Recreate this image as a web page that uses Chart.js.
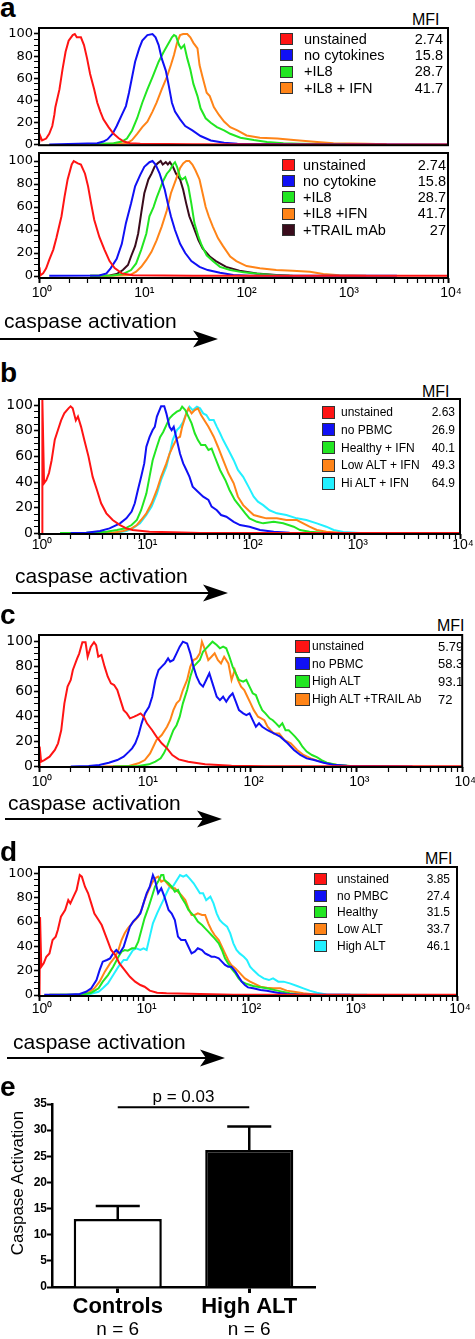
<!DOCTYPE html>
<html>
<head>
<meta charset="utf-8">
<script src="https://cdn.jsdelivr.net/npm/chart.js@4.4.1/dist/chart.umd.min.js"></script>
<style>
    body { margin: 0; background: #fff; }
    #page { position: relative; width: 475px; height: 1339px; overflow: hidden; background: #fff; }
    #page canvas { position: absolute; left: 0; }
    .t { position: absolute; white-space: nowrap; color: #000; }
    .sw { position: absolute; box-sizing: border-box; border: 1px solid #333; }
    svg { position: absolute; left: 0; }
</style>
</head>
<body>
<div id="page"></div>
<script>
// x values are log10(intensity), y values are % of max
const aTopRed = [[0,1],[0.01,8.5],[0.03,4],[0.07,5.7],[0.1,10],[0.13,17],[0.15,27],[0.16,34],[0.2,50],[0.23,68],[0.26,84],[0.29,94],[0.33,99],[0.35,100],[0.37,97],[0.41,97],[0.44,90],[0.47,78],[0.5,64],[0.54,50],[0.57,38],[0.6,30],[0.63,23],[0.68,16],[0.73,10],[0.78,6],[0.83,3],[0.89,1.4],[0.99,1],[1.5,0.5],[2.5,0.3],[4,0.3]];
const aTopBlue = [[0.1,0.3],[0.57,1.4],[0.63,3],[0.67,5],[0.72,10],[0.76,17],[0.81,27],[0.85,35],[0.88,47],[0.91,61],[0.94,75],[0.98,87],[1.01,94],[1.06,99],[1.11,100],[1.14,97],[1.17,90],[1.2,78],[1.24,67],[1.27,53],[1.3,38],[1.33,30],[1.38,23],[1.43,17],[1.5,13],[1.58,8],[1.68,4],[1.81,2],[1.94,1],[2.5,0.5],[4,0.3]];
const aTopGreen = [[0.5,0.5],[0.6,1],[0.73,1.4],[0.81,3],[0.86,5.7],[0.91,13],[0.96,24],[1.01,38],[1.06,50],[1.11,61],[1.14,68],[1.17,75],[1.22,84],[1.27,92],[1.3,97],[1.32,99],[1.34,98],[1.37,90],[1.39,87],[1.42,90],[1.45,78],[1.48,68],[1.51,55],[1.55,44],[1.58,33],[1.63,24],[1.68,20],[1.74,16],[1.81,13],[1.87,10],[1.97,6.5],[2.1,4.3],[2.23,2.6],[2.39,1.4],[2.55,1],[3,0.5]];
const aTopOrange = [[0.6,0.5],[0.73,1],[0.86,1.4],[0.91,4.3],[0.96,10],[1.01,16],[1.06,21],[1.11,30],[1.15,38],[1.2,50],[1.25,61],[1.29,72],[1.32,81],[1.35,92],[1.38,99],[1.41,100],[1.45,100],[1.48,97],[1.51,92],[1.55,87],[1.57,72],[1.6,61],[1.64,47],[1.67,44],[1.71,34],[1.76,27],[1.81,21],[1.87,16],[1.94,13],[2.03,8.5],[2.16,6.5],[2.33,5.7],[2.49,4.3],[2.72,2.6],[2.88,1.4],[3.2,1],[3.4,0.5]];

const aBotRed = [[0,0],[0.005,7.5],[0.013,0.5],[0.04,2.3],[0.07,6.7],[0.1,14],[0.14,23],[0.17,33],[0.22,52],[0.25,69],[0.28,84],[0.32,97],[0.34,100],[0.38,98],[0.41,97],[0.45,89],[0.48,78],[0.51,63],[0.54,49],[0.59,34],[0.64,23],[0.69,13],[0.74,7],[0.81,2.3],[0.92,0.6],[1.5,0.3],[4,0.3]];
const aBotBlue = [[0.1,0.2],[0.59,0.5],[0.66,2.3],[0.7,6.7],[0.76,15],[0.81,28],[0.85,46],[0.9,63],[0.94,78],[0.99,88],[1.03,95],[1.08,99],[1.11,100],[1.14,97],[1.18,89],[1.23,75],[1.26,63],[1.29,52],[1.33,40],[1.38,28],[1.43,20],[1.49,13],[1.57,8],[1.65,5.2],[1.77,2.9],[1.9,0.9],[2.06,0.3],[3.5,0.2]];
const aBotGreen = [[0.5,0.2],[0.72,0.5],[0.82,1.7],[0.9,5.2],[0.95,11],[1,23],[1.05,37],[1.08,52],[1.12,60],[1.15,68],[1.18,75],[1.21,82],[1.25,89],[1.28,92],[1.31,97],[1.33,99],[1.35,95],[1.38,86],[1.4,84],[1.43,86],[1.46,78],[1.49,63],[1.52,46],[1.56,34],[1.59,27],[1.64,18],[1.7,13],[1.77,8],[1.87,5.2],[2,3.2],[2.16,1.7],[2.32,0.6],[2.48,0.2]];
const aBotOrange = [[0.6,0.2],[0.79,0.5],[0.89,0.9],[0.95,3.8],[1,8],[1.05,14],[1.1,21],[1.15,31],[1.2,43],[1.25,57],[1.29,72],[1.34,84],[1.38,94],[1.41,98],[1.44,100],[1.47,100],[1.5,97],[1.53,92],[1.57,84],[1.6,72],[1.63,60],[1.66,52],[1.7,43],[1.75,33],[1.8,26],[1.87,17],[1.93,13],[2.03,8.7],[2.16,6.7],[2.32,5.2],[2.48,4.6],[2.65,3.8],[2.78,1.7],[2.94,0.6],[3.2,0.2]];
const aBotTrail = [[0.5,0.2],[0.69,0.5],[0.76,1.7],[0.82,5.2],[0.87,9.6],[0.9,17],[0.94,26],[0.97,37],[1,55],[1.03,72],[1.07,84],[1.1,89],[1.13,95],[1.16,98],[1.19,100],[1.21,97],[1.24,99],[1.26,97],[1.28,99],[1.31,95],[1.34,89],[1.38,84],[1.41,75],[1.44,63],[1.47,52],[1.51,43],[1.56,31],[1.6,24],[1.67,17],[1.73,13],[1.83,8],[1.96,4.6],[2.13,2.3],[2.32,0.9],[2.45,0.2]];

const bRed = [[0.03,0],[0.032,104],[0.048,39],[0.07,41.5],[0.095,47],[0.12,57],[0.15,73],[0.18,80.5],[0.21,88],[0.24,93.5],[0.28,97.4],[0.3,99],[0.32,97.4],[0.35,88],[0.37,91],[0.4,83],[0.43,73],[0.47,60],[0.51,44],[0.55,34],[0.59,23.4],[0.64,15.6],[0.7,10.4],[0.77,6.5],[0.83,3.9],[0.89,2.6],[1.05,1.3],[1.27,0.8],[1.53,0.3],[4,0.2]];
const bBlue = [[0.3,0.2],[0.45,0.5],[0.58,1.8],[0.67,3.9],[0.77,7.8],[0.83,11.7],[0.88,17],[0.91,23.4],[0.94,34],[0.97,44],[1,54.5],[1.02,67.5],[1.05,75],[1.08,80.5],[1.1,83],[1.12,91],[1.14,95],[1.16,99],[1.19,99],[1.21,93.5],[1.24,83],[1.26,80.5],[1.28,83],[1.31,72.7],[1.34,62],[1.37,54.5],[1.4,49.4],[1.43,44],[1.46,36.4],[1.51,32.5],[1.56,28.6],[1.61,26],[1.64,20.8],[1.69,18],[1.73,14.3],[1.78,13],[1.85,9],[1.91,6.5],[2,5.2],[2.1,2.6],[2.23,1.3],[2.38,0.5],[2.54,0.2]];
const bGreen = [[0.2,0.2],[0.45,0.5],[0.64,1.3],[0.74,2.6],[0.82,3.9],[0.88,6.5],[0.93,10.4],[0.97,18],[1.02,31],[1.05,44],[1.08,57],[1.12,67.5],[1.15,75],[1.18,79],[1.21,84.4],[1.24,89.6],[1.27,92.2],[1.31,94.8],[1.34,96],[1.36,98.7],[1.39,96],[1.42,91],[1.45,85.7],[1.48,78],[1.51,72.7],[1.54,68.8],[1.58,68.8],[1.61,65],[1.64,66],[1.67,59.7],[1.72,49.4],[1.77,41.6],[1.81,33.8],[1.86,26],[1.91,20.8],[1.96,15.6],[2,11.7],[2.07,9],[2.13,7.8],[2.23,9],[2.32,7.8],[2.42,5.2],[2.48,2.6],[2.57,1.3],[2.7,0.5],[2.8,0.2]];
const bOrange = [[0.5,0.2],[0.7,0.5],[0.8,1.8],[0.88,3.9],[0.93,6.5],[0.97,10.4],[1.02,15.6],[1.07,23.4],[1.12,33.8],[1.16,44],[1.21,54.5],[1.24,62],[1.27,67.5],[1.31,74],[1.34,75.3],[1.36,83],[1.4,93.5],[1.42,97.4],[1.45,93.5],[1.48,96],[1.51,97.4],[1.54,92.2],[1.58,87],[1.61,83],[1.66,75.3],[1.7,67.5],[1.75,57],[1.8,46.8],[1.85,39],[1.89,28.6],[1.94,22],[1.99,18],[2.04,14.3],[2.1,13],[2.16,11.7],[2.26,11.7],[2.35,10.4],[2.45,10.4],[2.51,7.8],[2.57,5.2],[2.64,2.6],[2.73,1.3],[2.86,0.5],[2.99,0.2]];
const bCyan = [[0.5,0.2],[0.74,0.5],[0.83,1.8],[0.89,3.9],[0.96,7.8],[1.02,14.3],[1.07,20.8],[1.12,31],[1.16,41.6],[1.21,52],[1.25,65],[1.27,72.7],[1.31,80.5],[1.34,83],[1.37,87],[1.4,93.5],[1.43,98.7],[1.46,96],[1.5,98.7],[1.53,97.4],[1.56,93.5],[1.59,92.2],[1.62,88.3],[1.66,88.3],[1.69,83],[1.72,78],[1.75,72.7],[1.8,65],[1.85,57],[1.89,49.4],[1.94,44],[1.99,36.4],[2.04,28.6],[2.08,24.7],[2.13,22],[2.19,18],[2.26,15.6],[2.35,14.3],[2.45,11.7],[2.54,10.4],[2.64,7.8],[2.73,5.2],[2.8,2.6],[2.89,1],[3.05,0.2]];

const cRed = [[0,0],[0.006,16],[0.02,4],[0.05,5.3],[0.1,8],[0.15,13.3],[0.18,18.6],[0.21,29],[0.24,50.4],[0.27,63.7],[0.3,69],[0.32,77],[0.36,86],[0.38,90],[0.41,99],[0.44,99],[0.46,87.5],[0.49,95.5],[0.52,99],[0.54,96.8],[0.56,87.5],[0.59,88.9],[0.62,79.6],[0.65,71.6],[0.68,66.3],[0.71,65],[0.74,61],[0.77,53],[0.8,45],[0.83,42.4],[0.86,38.5],[0.9,39.8],[0.93,41],[0.96,42.4],[0.99,39.8],[1.02,34.5],[1.07,29],[1.11,23.9],[1.16,18.6],[1.21,14.6],[1.26,9.3],[1.32,5.8],[1.41,4],[1.57,1.9],[1.82,0.8],[2.13,0.3],[4,0.3]];
const cBlue = [[0.3,0.2],[0.47,0.5],[0.57,1.3],[0.66,3.2],[0.74,5.3],[0.8,8],[0.85,12],[0.88,14.6],[0.91,18.6],[0.94,25.2],[0.97,34.5],[1,42.4],[1.04,47.7],[1.07,55.7],[1.1,69],[1.13,77],[1.16,79.6],[1.19,82.2],[1.22,86.2],[1.24,83.6],[1.27,84.9],[1.3,90.2],[1.33,95.5],[1.36,99.5],[1.4,98],[1.43,90.2],[1.46,79.6],[1.49,71.6],[1.52,66.3],[1.55,63.7],[1.58,69],[1.61,74.3],[1.64,66.3],[1.68,55.7],[1.71,53],[1.74,55.7],[1.77,51.7],[1.8,55.7],[1.83,58.4],[1.86,51.7],[1.89,45],[1.93,42.4],[1.96,41],[1.99,42.4],[2.02,37],[2.05,31.8],[2.08,34.5],[2.11,31.8],[2.16,29],[2.22,26.5],[2.28,23.9],[2.35,18.6],[2.41,13.3],[2.47,9.3],[2.53,6.6],[2.6,5.3],[2.69,3.2],[2.78,1.6],[2.91,0.8],[3.06,0.5],[3.38,0.3],[3.53,0.2]];
const cHigh = [[0.7,0.2],[0.82,0.3],[0.94,0.5],[1.04,1.9],[1.1,4],[1.15,6.6],[1.18,10.6],[1.21,15.9],[1.24,22.5],[1.27,29],[1.3,33],[1.33,39.8],[1.36,50.4],[1.4,61],[1.43,71.6],[1.46,79.6],[1.49,82.2],[1.52,84.9],[1.55,91.5],[1.58,94.2],[1.61,96.8],[1.64,99.5],[1.68,96.8],[1.71,94.2],[1.74,95.5],[1.77,94.2],[1.8,87.5],[1.83,79.6],[1.86,74.3],[1.89,69],[1.93,67.6],[1.96,69],[1.99,63.7],[2.02,58.4],[2.05,57],[2.08,50.4],[2.11,45],[2.14,42.4],[2.18,38.5],[2.21,37],[2.24,34.5],[2.27,31.8],[2.3,34.5],[2.33,29],[2.36,29],[2.39,26.5],[2.42,23.9],[2.46,19.9],[2.49,15.9],[2.53,12],[2.58,9.3],[2.63,7.4],[2.67,5.3],[2.72,3.2],[2.81,1.6],[2.94,0.5],[3.31,0.2]];
const cTrail = [[0.6,0.2],[0.72,0.3],[0.85,0.5],[0.94,2.7],[1,5.3],[1.05,10.6],[1.08,15.9],[1.11,21.2],[1.16,25.2],[1.21,31.8],[1.24,37],[1.27,45],[1.3,50.4],[1.33,53],[1.36,61],[1.4,69],[1.43,79.6],[1.46,84.9],[1.49,86.2],[1.52,90.2],[1.54,99.5],[1.57,92.8],[1.6,84.9],[1.63,87.5],[1.66,90.2],[1.69,84.9],[1.72,82.2],[1.75,87.5],[1.79,82.2],[1.82,69],[1.85,77],[1.88,69],[1.91,63.7],[1.94,61],[1.97,55.7],[2,50.4],[2.03,45],[2.07,39.8],[2.1,38.5],[2.13,37],[2.16,31.8],[2.19,29],[2.22,26.5],[2.27,26.5],[2.32,21.2],[2.38,18.6],[2.44,13.3],[2.5,9.3],[2.57,6.6],[2.63,4.8],[2.72,2.7],[2.85,1],[3,0.2]];

const dRed = [[0.005,0],[0.01,64],[0.022,23.3],[0.045,26],[0.07,31.5],[0.1,34.2],[0.13,45.2],[0.16,48],[0.18,53.4],[0.21,64.4],[0.25,69.9],[0.28,78],[0.3,75.3],[0.33,80.8],[0.36,86.3],[0.39,98.6],[0.41,97.3],[0.44,89],[0.47,83.6],[0.5,75.3],[0.53,67],[0.57,61.6],[0.6,57.5],[0.63,50.7],[0.66,43.8],[0.69,37],[0.73,32.9],[0.77,26],[0.82,20.5],[0.87,15],[0.92,11],[0.97,8.2],[1.01,6.8],[1.06,3.6],[1.13,1.9],[1.22,1.4],[1.54,0.8],[1.86,0.3],[4,0.2]];
const dBlue = [[0.05,0.2],[0.26,0.3],[0.39,0.8],[0.45,2.7],[0.5,5.5],[0.55,12.3],[0.58,20.5],[0.61,27.4],[0.65,28.8],[0.68,30.1],[0.71,34.2],[0.74,37],[0.77,34.2],[0.81,39.7],[0.84,48],[0.87,56.2],[0.9,60.3],[0.93,63],[0.97,67],[1,75.3],[1.03,83.6],[1.06,89],[1.09,98.6],[1.11,94.5],[1.14,83.6],[1.17,87.7],[1.2,80.8],[1.24,69.9],[1.27,67],[1.3,61.6],[1.33,48],[1.36,45.2],[1.4,45.2],[1.43,39.7],[1.46,34.2],[1.49,35.6],[1.52,38.4],[1.56,37],[1.59,34.2],[1.62,32.9],[1.65,31.5],[1.68,31.5],[1.72,30.1],[1.75,27.4],[1.78,24.7],[1.81,23.3],[1.84,23.3],[1.88,19.2],[1.91,15],[1.94,11],[1.97,8.2],[2,6.3],[2.05,5.5],[2.12,4.1],[2.18,3.6],[2.28,1.9],[2.37,0.8],[2.5,0.3],[2.98,0.2]];
const dHealthy = [[0.1,0.2],[0.26,0.3],[0.42,0.5],[0.5,1.9],[0.57,5.5],[0.61,11],[0.66,16.4],[0.71,23.3],[0.76,31.5],[0.79,35.6],[0.82,37],[0.85,36.4],[0.89,38.4],[0.92,38.4],[0.95,43.8],[0.98,53.4],[1.01,63],[1.05,72.6],[1.08,80.8],[1.11,89],[1.14,93.2],[1.17,98.6],[1.19,98.6],[1.2,94.5],[1.24,91.8],[1.27,89],[1.3,84.9],[1.33,86.3],[1.36,80.8],[1.4,75.3],[1.43,69.9],[1.46,67.1],[1.49,64.4],[1.52,60.3],[1.56,57.5],[1.59,54.8],[1.62,52.1],[1.65,49.3],[1.68,46.6],[1.72,42.5],[1.75,37],[1.78,30.1],[1.81,26],[1.84,21.9],[1.88,17.8],[1.91,13.7],[1.94,11],[1.99,9],[2.05,7.4],[2.12,6.3],[2.18,5.5],[2.28,3.6],[2.4,1.4],[2.5,0.3]];
const dLow = [[0.1,0.2],[0.26,0.3],[0.39,0.5],[0.47,1.9],[0.53,5.5],[0.58,11],[0.63,19.2],[0.68,26],[0.73,31.5],[0.76,37],[0.79,45.2],[0.82,50.7],[0.85,54.8],[0.89,58.9],[0.92,61.6],[0.95,64.4],[0.98,69.9],[1.01,78],[1.05,86.3],[1.08,91.8],[1.11,95.9],[1.14,97.3],[1.17,93.2],[1.2,94.5],[1.24,90.4],[1.27,87.7],[1.3,87.7],[1.33,84.9],[1.36,82.2],[1.4,78],[1.43,71.2],[1.46,65.8],[1.49,65.8],[1.52,67.1],[1.56,65.8],[1.59,65.8],[1.62,58.9],[1.65,53.4],[1.68,49.3],[1.72,45.2],[1.75,39.7],[1.78,34.2],[1.81,28.8],[1.84,24.7],[1.88,21.9],[1.91,19.2],[1.94,16.4],[1.97,13.7],[2.02,11],[2.07,9],[2.12,6.8],[2.18,6],[2.24,5.5],[2.31,5.5],[2.37,3.6],[2.44,2.7],[2.53,1.4],[2.66,0.3]];
const dHigh = [[0.2,0.2],[0.36,0.3],[0.49,0.8],[0.57,2.7],[0.61,5.5],[0.66,9.6],[0.71,16.4],[0.76,23.3],[0.81,28.8],[0.84,28.8],[0.87,32.9],[0.9,37],[0.93,38.4],[0.97,37],[1,38.4],[1.03,37],[1.06,48],[1.09,58.9],[1.13,67.1],[1.16,72.6],[1.19,78],[1.22,83.6],[1.25,89],[1.28,89],[1.32,94.5],[1.35,98.6],[1.38,97.3],[1.41,98.6],[1.44,95.9],[1.48,91.8],[1.51,87.7],[1.54,83.6],[1.57,83.6],[1.6,78],[1.64,80.8],[1.67,75.3],[1.7,67.1],[1.73,61.6],[1.76,58.9],[1.8,56.2],[1.83,50.7],[1.86,42.5],[1.89,37],[1.92,34.2],[1.96,31.5],[1.99,28.8],[2.02,23.3],[2.05,20.5],[2.1,16.4],[2.15,13.7],[2.2,12.3],[2.24,13.7],[2.29,11],[2.34,11],[2.4,9.6],[2.47,7.4],[2.53,5.5],[2.59,3.6],[2.66,1.9],[2.75,0.5],[3.14,0.2]];

const aTopLabels = ["unstained", "no cytokines", "+IL8", "+IL8 + IFN"];
const aTopMfi = ["2.74", "15.8", "28.7", "41.7"];
const aBotLabels = ["unstained", "no cytokine", "+IL8", "+IL8 +IFN", "+TRAIL mAb"];
const aBotMfi = ["2.74", "15.8", "28.7", "41.7", "27"];
const bLabels = ["unstained", "no PBMC", "Healthy + IFN", "Low ALT + IFN", "Hi ALT + IFN"];
const bMfi = ["2.63", "26.9", "40.1", "49.3", "64.9"];
const cLabels = ["unstained", "no PBMC", "High ALT", "High ALT +TRAIL Ab"];
const cMfi = ["5.79", "58.3", "93.1", "72"];
const dLabels = ["unstained", "no PMBC", "Healthy", "Low ALT", "High ALT"];
const dMfi = ["3.85", "27.4", "31.5", "33.7", "46.1"];

const decades = [0, 1, 2, 3, 4];
const minorSteps = [2, 3, 4, 5, 6, 7, 8, 9];
const yTicks = [0, 5, 10, 15, 20, 25, 30, 35, 40, 45, 50, 55, 60, 65, 70, 75, 80, 85, 90, 95, 100];
const supers = ["\u2070", "\u00b9", "\u00b2", "\u00b3", "\u2074"];

const groups = ["Controls", "High ALT"];
const groupMeans = [13, 26.2];
const groupErrTop = [15.5, 30.7];
const groupN = ["n = 6", "n = 6"];
const pLabel = "p = 0.03";
const pLevel = 34.4;

const SANS = '"Liberation Sans", Arial, sans-serif';
const WIDE = '"DejaVu Sans", sans-serif';
const RED = "#ff1414", BLUE = "#1010f5", GREEN = "#22e622", ORANGE = "#ff8418", CYAN = "#22f0ff", DARK = "#3a0c1c";

const page = document.getElementById("page");

const logTicks = [];
decades.forEach(d => {
    logTicks.push(d);
    if (d < 4) minorSteps.forEach(m => logTicks.push(d + Math.log10(m)));
});

function addCanvas(top, height) {
    const c = document.createElement("canvas");
    c.width = 475;
    c.height = height;
    c.style.top = top + "px";
    c.style.width = "475px";
    c.style.height = height + "px";
    page.appendChild(c);
    return c;
}

function txt(str, x, y, size, o = {}) {
    const el = document.createElement("div");
    el.className = "t";
    el.textContent = str;
    el.style.font = `${o.weight || "normal"} ${size}px ${o.family || SANS}`;
    el.style.lineHeight = size + "px";
    el.style.top = (o.baseline ? y - 0.847 * size : y - size / 2) + "px";
    if (o.align === "right") {
        el.style.right = (475 - x) + "px";
    } else {
        el.style.left = x + "px";
    }
    page.appendChild(el);
    return el;
}

function arrow(x0, tip, y) {
    const NS = "http://www.w3.org/2000/svg";
    const svg = document.createElementNS(NS, "svg");
    svg.setAttribute("width", 475);
    svg.setAttribute("height", 20);
    svg.style.top = (y - 10) + "px";
    const line = document.createElementNS(NS, "line");
    line.setAttribute("x1", x0);
    line.setAttribute("x2", tip - 12);
    line.setAttribute("y1", 10);
    line.setAttribute("y2", 10);
    line.setAttribute("stroke", "#000");
    line.setAttribute("stroke-width", 2);
    const head = document.createElementNS(NS, "path");
    head.setAttribute("d", `M${tip},10 L${tip - 25},1.5 L${tip - 19},10 L${tip - 25},18.5 Z`);
    head.setAttribute("fill", "#000");
    svg.appendChild(line);
    svg.appendChild(head);
    page.appendChild(svg);
}

const framePlugin = {
    id: "frame",
    afterDraw(chart) {
        const { ctx, chartArea: a } = chart;
        ctx.save();
        ctx.strokeStyle = "#000";
        ctx.lineWidth = 2;
        ctx.strokeRect(a.left, a.top, a.right - a.left, a.bottom - a.top);
        ctx.restore();
    }
};

function histogram(p) {
    const padTop = 10;
    const xh = p.showX ? 32 : 2;
    const canvas = addCanvas(p.top - padTop, padTop + (p.bottom - p.top) + xh);

    new Chart(canvas, {
        type: "scatter",
        data: {
            datasets: p.series.map((s, i) => ({
                data: s.map(([x, y]) => ({ x, y })),
                showLine: true,
                borderColor: p.colors[i],
                borderWidth: 2,
                pointRadius: 0,
                tension: 0,
            })),
        },
        options: {
            responsive: false,
            animation: false,
            layout: { padding: { top: padTop, left: 0, right: 475 - p.right, bottom: 0 } },
            plugins: { legend: { display: false }, tooltip: { enabled: false } },
            scales: {
                x: {
                    type: "linear",
                    min: 0,
                    max: 4,
                    afterBuildTicks: ax => { ax.ticks = logTicks.map(v => ({ value: v })); },
                    afterFit: s => { s.height = xh; },
                    border: { display: false },
                    grid: {
                        drawOnChartArea: false,
                        drawTicks: p.showX,
                        tickLength: 5,
                        color: "#000",
                        tickColor: "#000",
                        tickWidth: ctx => Number.isInteger(ctx.tick.value) ? 2 : 1.2,
                    },
                    ticks: {
                        display: p.showX,
                        autoSkip: false,
                        maxRotation: 0,
                        padding: p.labelPad,
                        labelOffset: 3,
                        color: "#000",
                        font: { family: SANS, size: 14 },
                        callback: v => Number.isInteger(v) ? "10" + supers[v] : "",
                    },
                },
                y: {
                    min: p.yMin,
                    max: p.yMax,
                    afterBuildTicks: ax => { ax.ticks = yTicks.map(v => ({ value: v })); },
                    afterFit: s => { s.width = p.left; },
                    border: { display: false },
                    grid: {
                        drawOnChartArea: false,
                        tickLength: 5,
                        color: "#000",
                        tickColor: "#000",
                        tickWidth: ctx => ctx.tick.value % 20 === 0 ? 1.6 : 1,
                    },
                    ticks: {
                        autoSkip: false,
                        padding: 1,
                        color: "#000",
                        font: { family: WIDE, size: p.yFont },
                        callback: v => v % 20 === 0 ? v : "",
                    },
                },
            },
        },
        plugins: [framePlugin],
    });
}

function legend(p) {
    p.labels.forEach((label, i) => {
        const y = p.rowTop + i * p.rowStep;
        const sw = document.createElement("div");
        sw.className = "sw";
        sw.style.left = p.swX + "px";
        sw.style.top = (y - p.swH / 2) + "px";
        sw.style.width = (p.swW || 13) + "px";
        sw.style.height = p.swH + "px";
        sw.style.background = p.colors[i];
        page.appendChild(sw);
        txt(label, p.textX, y, p.font);
        if (p.valLeft) {
            txt(p.mfi[i], p.valLeft, y, p.valFont || p.font);
        } else {
            txt(p.mfi[i], p.valRight, y, p.valFont || p.font, { align: "right" });
        }
    });
}

// panel a
txt("a", 0, 18, 28, { weight: "bold", baseline: true });
txt("MFI", 412, 26, 16, { baseline: true });
histogram({
    top: 28, bottom: 152, left: 39, right: 448, yMin: -0.3, yMax: 105.4, showX: false, yFont: 13,
    series: [aTopRed, aTopBlue, aTopGreen, aTopOrange], colors: [RED, BLUE, GREEN, ORANGE],
});
legend({ labels: aTopLabels, mfi: aTopMfi, colors: [RED, BLUE, GREEN, ORANGE],
    swX: 280, swH: 12, rowTop: 39, rowStep: 16.3, textX: 304, valRight: 443, font: 14.5 });
histogram({
    top: 153, bottom: 278, left: 39, right: 448, yMin: -1.7, yMax: 107, showX: true, labelPad: 2, yFont: 13,
    series: [aBotRed, aBotBlue, aBotGreen, aBotOrange, aBotTrail], colors: [RED, BLUE, GREEN, ORANGE, DARK],
});
legend({ labels: aBotLabels, mfi: aBotMfi, colors: [RED, BLUE, GREEN, ORANGE, DARK],
    swX: 282, swH: 12, rowTop: 165, rowStep: 16.2, textX: 303, valRight: 446, font: 14.5 });
txt("caspase activation", 4, 328, 21, { baseline: true });
arrow(0, 218, 339);

// panel b
txt("b", 0, 383, 28, { weight: "bold", baseline: true });
txt("MFI", 422, 398, 16, { baseline: true });
histogram({
    top: 399, bottom: 534, left: 39, right: 460, yMin: -0.5, yMax: 104.7, showX: true, labelPad: -2, yFont: 14,
    series: [bRed, bBlue, bGreen, bOrange, bCyan], colors: [RED, BLUE, GREEN, ORANGE, CYAN],
});
legend({ labels: bLabels, mfi: bMfi, colors: [RED, BLUE, GREEN, ORANGE, CYAN],
    swX: 322, swH: 13, rowTop: 412, rowStep: 17.8, textX: 341, valRight: 455, font: 12 });
txt("caspase activation", 15, 583, 21, { baseline: true });
arrow(12, 228, 593);

// panel c
txt("c", 0, 625, 28, { weight: "bold", baseline: true });
txt("MFI", 437, 632, 16, { baseline: true });
histogram({
    top: 635, bottom: 767, left: 39, right: 467, yMin: -0.25, yMax: 104.8, showX: true, labelPad: 2, yFont: 14,
    series: [cRed, cBlue, cHigh, cTrail], colors: [RED, BLUE, GREEN, ORANGE],
});
legend({ labels: cLabels, mfi: cMfi, colors: [RED, BLUE, GREEN, ORANGE],
    swX: 295, swW: 15, swH: 13, rowTop: 646, rowStep: 17.7, textX: 312, valLeft: 438, font: 12, valFont: 13 });
txt("caspase activation", 8, 810, 21, { baseline: true });
arrow(5, 222, 819);

// panel d
txt("d", 0, 862, 28, { weight: "bold", baseline: true });
txt("MFI", 425, 865, 16, { baseline: true });
histogram({
    top: 867, bottom: 996, left: 39, right: 457, yMin: -0.8, yMax: 105.2, showX: true, labelPad: 0, yFont: 13,
    series: [dRed, dBlue, dHealthy, dLow, dHigh], colors: [RED, BLUE, GREEN, ORANGE, CYAN],
});
legend({ labels: dLabels, mfi: dMfi, colors: [RED, BLUE, GREEN, ORANGE, CYAN],
    swX: 314, swH: 12, rowTop: 879, rowStep: 16.7, textX: 337, valRight: 450, font: 12 });
txt("caspase activation", 13, 1049, 21, { baseline: true });
arrow(7, 225, 1058);

// panel e
txt("e", 0, 1097, 28, { weight: "bold", baseline: true });
const yTitle = txt("Caspase Activation", 17, 1183, 17);
yTitle.style.left = "17px";
yTitle.style.top = "1183px";
yTitle.style.transform = "translate(-50%, -50%) rotate(-90deg)";

const barExtras = {
    id: "barExtras",
    afterDatasetsDraw(chart) {
        const { ctx, scales: { x, y } } = chart;
        const bars = chart.getDatasetMeta(0).data;
        ctx.save();
        ctx.strokeStyle = "#000";
        ctx.lineWidth = 2.5;
        bars.forEach((bar, i) => {
            const yTop = y.getPixelForValue(groupErrTop[i]);
            const yMean = y.getPixelForValue(groupMeans[i]);
            const half = bar.width * 0.25;
            ctx.beginPath();
            ctx.moveTo(bar.x, yMean);
            ctx.lineTo(bar.x, yTop);
            ctx.moveTo(bar.x - half, yTop);
            ctx.lineTo(bar.x + half, yTop);
            ctx.stroke();
        });

        const x0 = x.getPixelForValue(0);
        const x1 = x.getPixelForValue(1);
        const ySig = y.getPixelForValue(pLevel);
        ctx.lineWidth = 2;
        ctx.beginPath();
        ctx.moveTo(x0, ySig);
        ctx.lineTo(x1, ySig);
        ctx.stroke();

        ctx.fillStyle = "#000";
        ctx.textAlign = "center";
        ctx.textBaseline = "alphabetic";
        ctx.font = `17px ${SANS}`;
        ctx.fillText(pLabel, (x0 + x1) / 2, ySig - 5);

        ctx.font = `19px ${SANS}`;
        ctx.textBaseline = "middle";
        groupN.forEach((t, i) => ctx.fillText(t, x.getPixelForValue(i), y.bottom + 43));
        ctx.restore();
    }
};

new Chart(addCanvas(1080, 259), {
    type: "bar",
    data: {
        labels: groups,
        datasets: [{
            data: groupMeans,
            backgroundColor: ["#ffffff", "#000000"],
            borderColor: "#000",
            borderWidth: 2.5,
            barPercentage: 0.67,
            categoryPercentage: 1,
        }],
    },
    options: {
        responsive: false,
        animation: false,
        layout: { padding: { top: 24, left: 0, right: 160, bottom: 0 } },
        plugins: { legend: { display: false }, tooltip: { enabled: false } },
        scales: {
            x: {
                afterFit: s => { s.height = 52; },
                border: { color: "#000", width: 2.5 },
                grid: { offset: false, drawOnChartArea: false, tickLength: 6, tickWidth: 3, color: "#000" },
                ticks: { color: "#000", padding: 1, font: { family: SANS, size: 22, weight: "bold" } },
            },
            y: {
                min: 0,
                max: 35,
                afterFit: s => { s.width = 52; },
                border: { color: "#000", width: 2.5 },
                grid: { drawOnChartArea: false, tickLength: 5, tickWidth: 2, color: "#000" },
                ticks: { stepSize: 5, padding: 0, color: "#000", font: { family: SANS, size: 12, weight: "bold" } },
            },
        },
    },
    plugins: [barExtras],
});
</script>
</body>
</html>
